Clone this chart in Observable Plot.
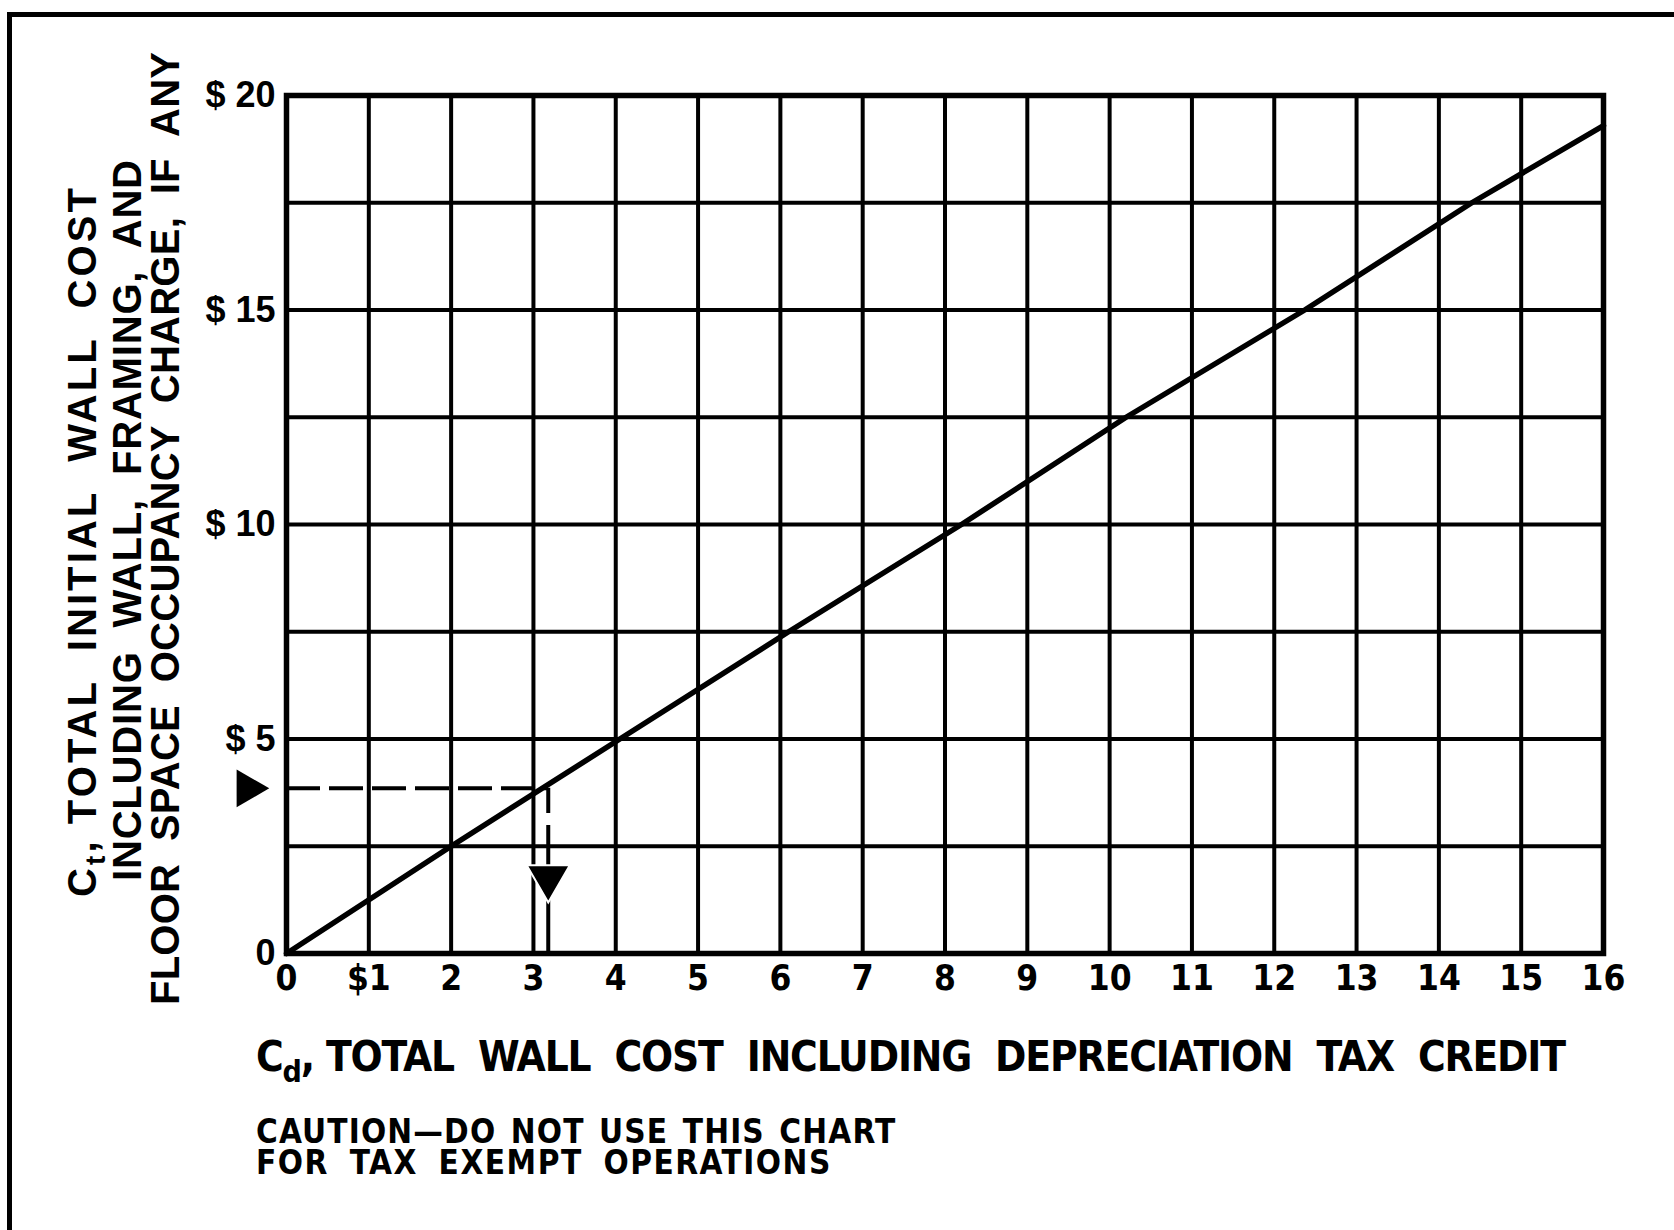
<!DOCTYPE html>
<html><head><meta charset="utf-8">
<script src="https://cdn.jsdelivr.net/npm/d3@7"></script>
<script src="https://cdn.jsdelivr.net/npm/@observablehq/plot@0.6"></script>
<style>
html,body{margin:0;padding:0;background:#fff;}
body{width:1674px;height:1230px;overflow:hidden;position:relative;}
#frame{position:absolute;left:7px;top:12px;width:1800px;height:1400px;border-left:5px solid #000;border-top:5px solid #000;pointer-events:none;}
#chart svg,#caption svg{display:block;}
</style></head><body>
<div id="chart"></div>
<div id="caption"></div>
<div id="frame"></div>
<script>
// ---- data ----
const cdValues = [0, 2.0, 4.05, 6.1, 8.2, 10.2, 12.37, 14.4, 16];
const ctValues = [0, 2.5, 5.0, 7.5, 10.0, 12.5, 15.0, 17.5, 19.3];
const xTicks = [0, 1, 2, 3, 4, 5, 6, 7, 8, 9, 10, 11, 12, 13, 14, 15, 16];
const xTickLabels = ["0", "$1", "2", "3", "4", "5", "6", "7", "8", "9", "10", "11", "12", "13", "14", "15", "16"];
const yGrid = [0, 2.5, 5, 7.5, 10, 12.5, 15, 17.5, 20];
const yTicks = [0, 5, 10, 15, 20];
const yTickLabels = ["0", "$ 5", "$ 10", "$ 15", "$ 20"];
const exampleCd = 3.18;
const exampleCt = 3.85;
const exampleArrowCt = 1.77;
const xTitle = ["C", "d", ", TOTAL  WALL  COST  INCLUDING  DEPRECIATION  TAX  CREDIT"];
const yTitle1 = ["C", "t", ", TOTAL  INITIAL  WALL  COST"];
const yTitle2 = "INCLUDING  WALL,  FRAMING,  AND";
const yTitle3 = "FLOOR  SPACE  OCCUPANCY  CHARGE,  IF  ANY";
const captionLines = ["CAUTION\u2014DO  NOT  USE  THIS  CHART", "FOR  TAX  EXEMPT  OPERATIONS"];

const wideFont = "'Liberation Sans', Arial, 'DejaVu Sans', sans-serif";
const narrowFont = "'Liberation Sans Narrow', 'DejaVu Sans Condensed', 'Liberation Sans', sans-serif";

const lineData = cdValues.map((x, i) => ({x, y: ctValues[i]}));
const xLabelMap = new Map(xTicks.map((d, i) => [d, xTickLabels[i]]));
const yLabelMap = new Map(yTicks.map((d, i) => [d, yTickLabels[i]]));

const chart = Plot.plot({
  width: 1674,
  height: 1105,
  marginLeft: 286,
  marginRight: 71,
  marginTop: 95,
  marginBottom: 152,
  x: {domain: [0, 16]},
  y: {domain: [0, 20]},
  style: {background: "white", overflow: "visible", color: "black"},
  marks: [
    Plot.ruleX(xTicks, {stroke: "black", strokeWidth: 4}),
    Plot.ruleY(yGrid, {stroke: "black", strokeWidth: 4}),
    Plot.frame({stroke: "black", strokeWidth: 5.5}),
    Plot.axisX(xTicks, {tickSize: 0, tickPadding: 12, label: null, tickFormat: d => xLabelMap.get(d),
      fontSize: 35, fontWeight: "bold", fontFamily: narrowFont}),
    Plot.axisY(yTicks, {tickSize: 0, tickPadding: 11, label: null, tickFormat: d => yLabelMap.get(d),
      fontSize: 36, fontWeight: "bold", fontFamily: wideFont}),
    Plot.line(lineData, {x: "x", y: "y", stroke: "black", strokeWidth: 5.5}),
    Plot.ruleY([exampleCt], {x1: 0, x2: exampleCd, stroke: "black", strokeWidth: 4, strokeDasharray: "34,9"}),
    Plot.ruleX([exampleCd], {y1: 0, y2: exampleCt, stroke: "black", strokeWidth: 4, strokeDasharray: "58,12"}),
    Plot.dot([{x: exampleCd, y: exampleArrowCt}], {x: "x", y: "y", symbol: "triangle", r: 16, rotate: 180, fill: "black", stroke: "white", strokeWidth: 2}),
    Plot.dot([{y: exampleCt}], {y: "y", frameAnchor: "left", dx: -39, symbol: "triangle", r: 14, rotate: 90, fill: "black", stroke: null})
  ]
});
document.getElementById("chart").appendChild(chart);

const svg = d3.select(chart);
// x-axis title with subscript
const xt = svg.append("text")
  .attr("x", 256).attr("y", 1071)
  .attr("text-anchor", "start")
  .attr("font-family", narrowFont).attr("font-weight", "bold").attr("font-size", 42)
  .attr("fill", "black")
  .attr("textLength", 1310).attr("lengthAdjust", "spacing");
xt.append("tspan").text(xTitle[0]);
xt.append("tspan").attr("dy", 11).attr("font-size", 30).text(xTitle[1]);
xt.append("tspan").attr("dy", -11).text(xTitle[2]);

// y-axis title, three rotated lines
function yLine(baselineX, startY, length, parts) {
  const t = svg.append("text")
    .attr("transform", `translate(${baselineX},${startY}) rotate(-90)`)
    .attr("text-anchor", "start")
    .attr("font-family", wideFont).attr("font-weight", "bold").attr("font-size", 40)
    .attr("fill", "black")
    .attr("textLength", length).attr("lengthAdjust", "spacing");
  if (Array.isArray(parts)) {
    t.append("tspan").text(parts[0]);
    t.append("tspan").attr("dy", 9).attr("font-size", 28).text(parts[1]);
    t.append("tspan").attr("dy", -9).text(parts[2]);
  } else {
    t.text(parts);
  }
}
yLine(96, 897, 709, yTitle1);
yLine(141, 881, 721, yTitle2);
yLine(179, 1005, 953, yTitle3);

// caption below the chart: one text block with two lines
const cap = d3.select("#caption").append("svg").attr("width", 1674).attr("height", 125);
const capSpacing = [{letter: 1.15, word: 3}, {letter: 1.5, word: 9}];
const capText = cap.append("text")
  .attr("x", 256).attr("y", 38)
  .attr("text-anchor", "start")
  .attr("font-family", narrowFont).attr("font-weight", "bold").attr("font-size", 33)
  .attr("fill", "black");
captionLines.forEach((line, i) => {
  capText.append("tspan")
    .attr("x", 256).attr("dy", i === 0 ? 0 : 31)
    .style("letter-spacing", capSpacing[i].letter + "px")
    .style("word-spacing", capSpacing[i].word + "px")
    .text(line);
});
</script>
</body></html>
